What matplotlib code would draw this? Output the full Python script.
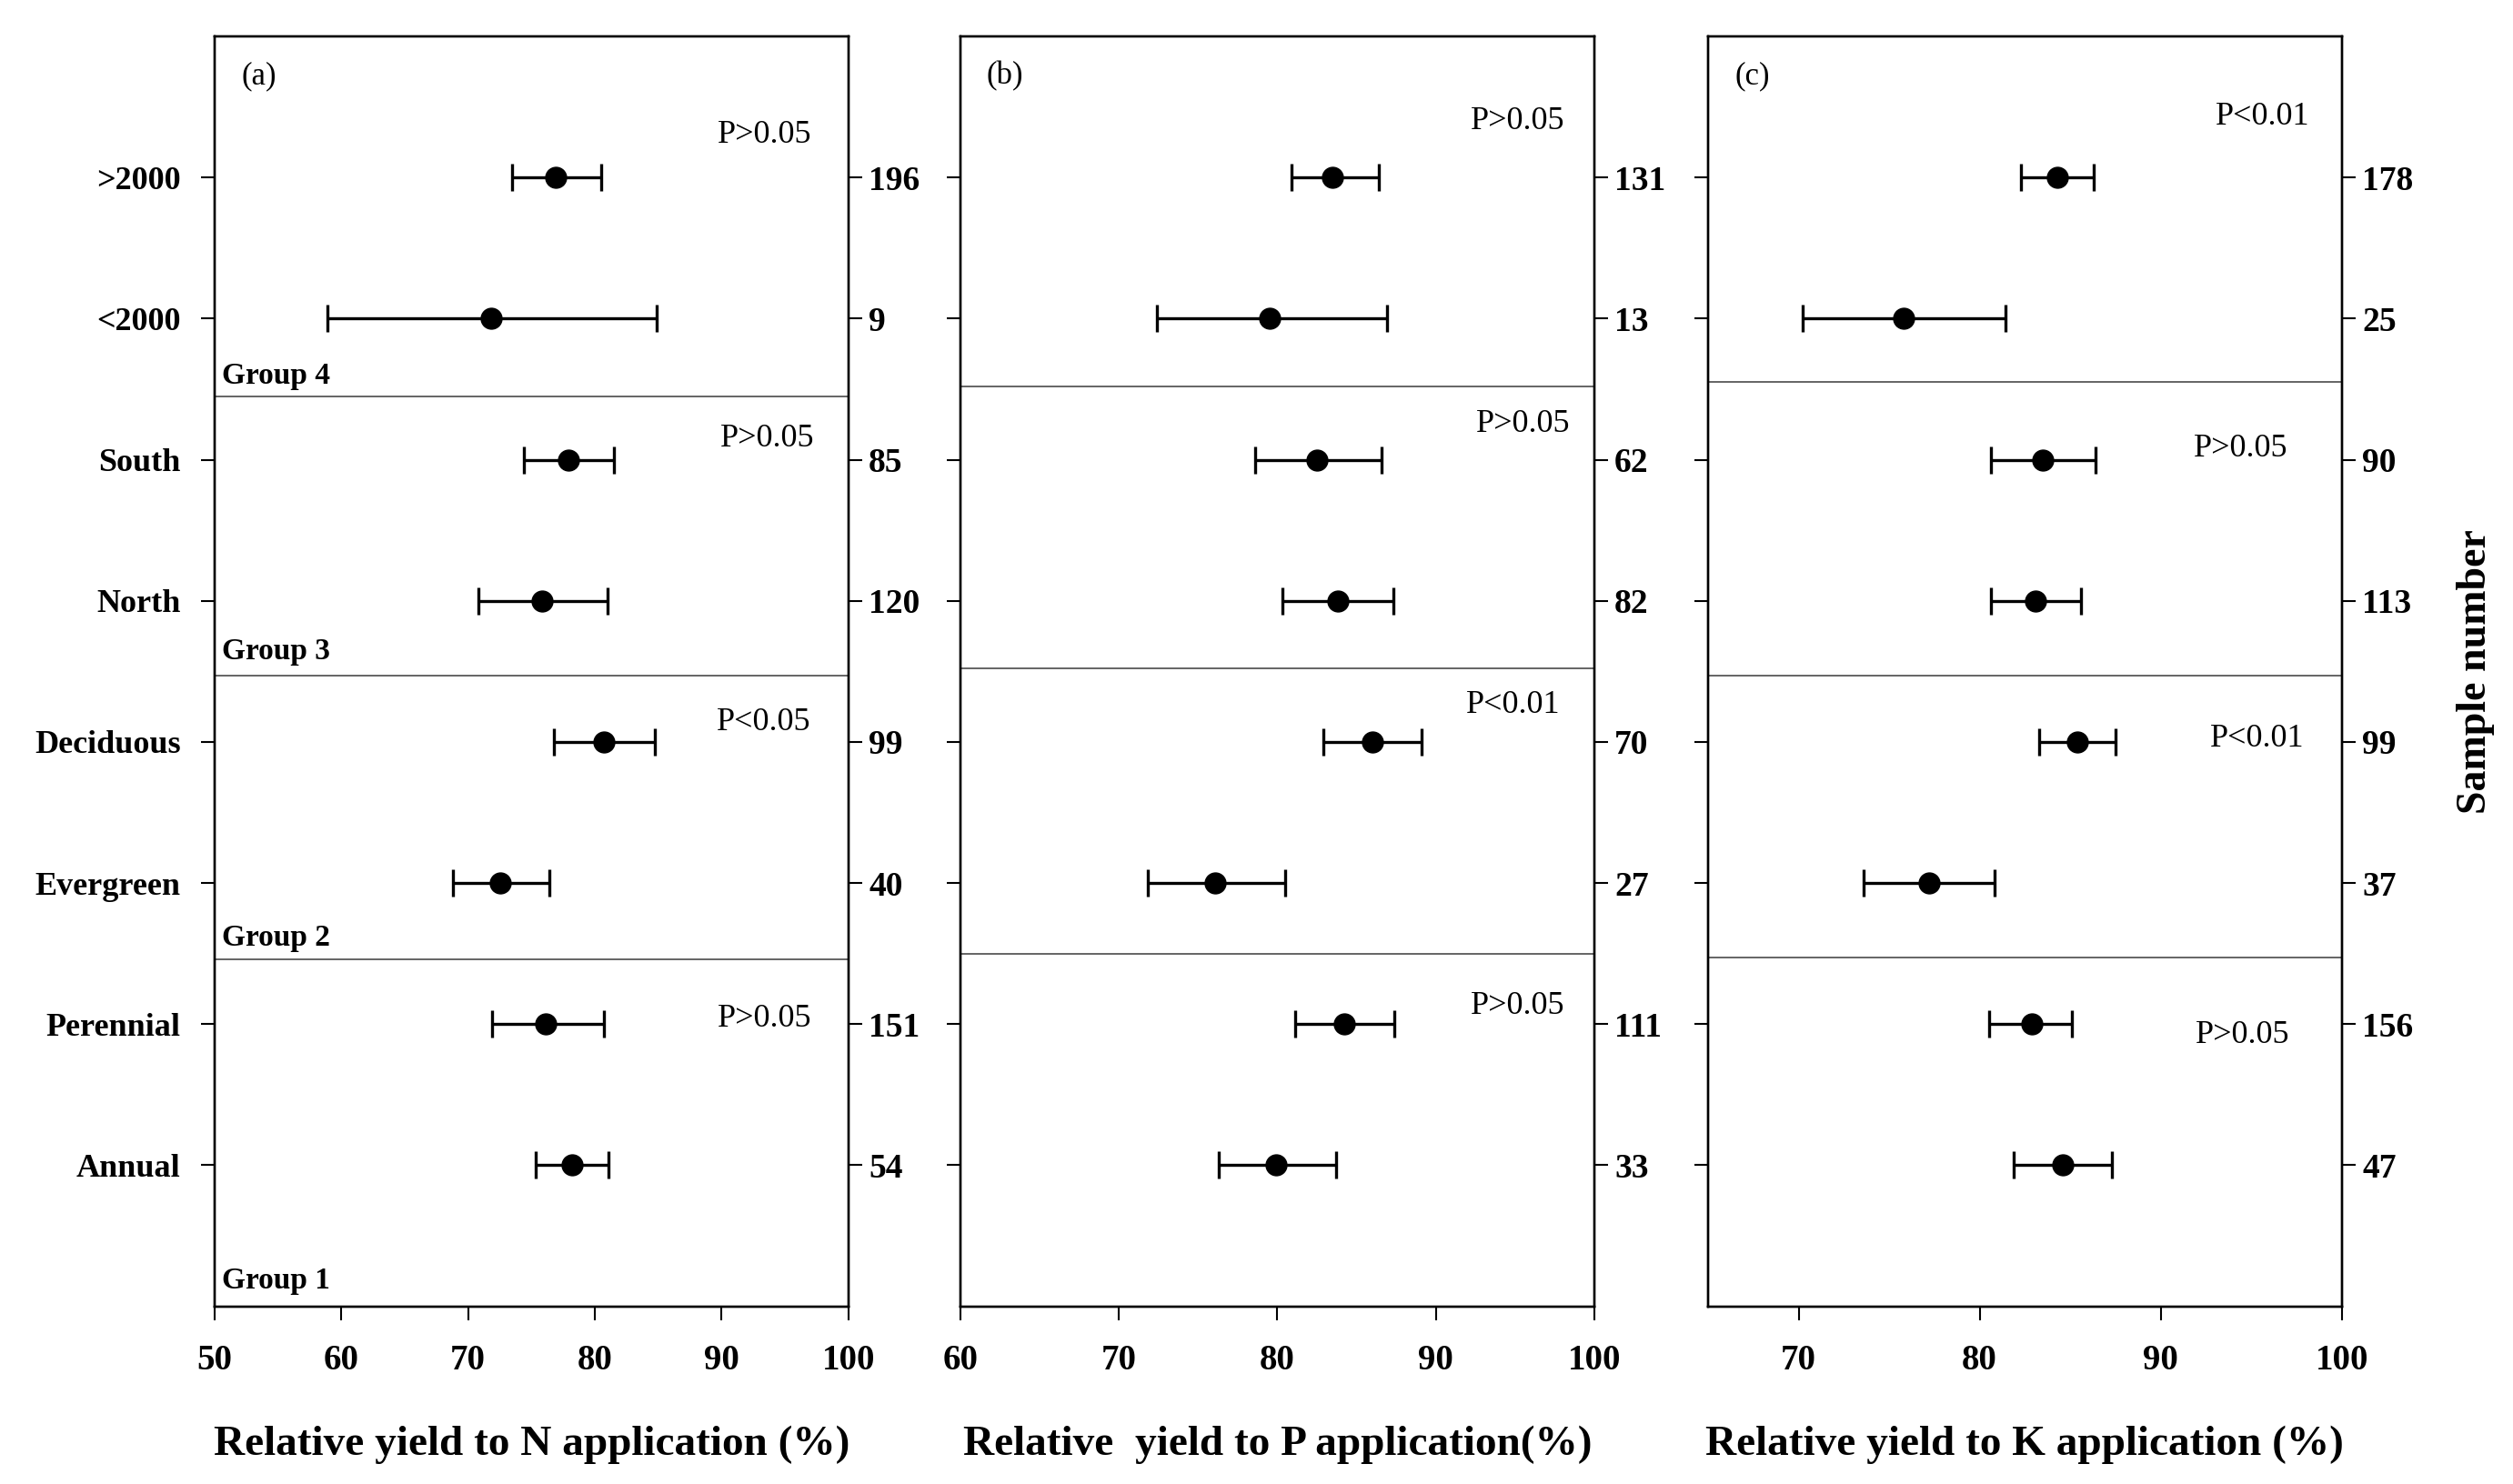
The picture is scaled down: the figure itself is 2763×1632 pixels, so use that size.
#Relative yield forest plot - N, P, K
#Imports
import matplotlib
matplotlib.use('Agg')
import matplotlib.pyplot as plt
import numpy as np

#1. Dados (de baixo para cima: y = 1..8)
categorias = ['Annual', 'Perennial', 'Evergreen', 'Deciduous', 'North', 'South', '<2000', '>2000']
grupos = ['Group 1', 'Group 2', 'Group 3', 'Group 4']

# -- N
n_media = [78.2, 76.1, 72.5, 80.7, 75.8, 77.9, 71.8, 76.9]
n_inf = [75.3, 71.9, 68.8, 76.8, 70.8, 74.4, 58.9, 73.5]
n_sup = [81.1, 80.7, 76.4, 84.7, 81.0, 81.5, 84.9, 80.5]
n_amostras = ['54', '151', '40', '99', '120', '85', '9', '196']
n_p = ['P>0.05', 'P<0.05', 'P>0.05', 'P>0.05']

# -- P
p_media = [79.9, 84.2, 76.1, 86.0, 83.8, 82.5, 79.5, 83.5]
p_inf = [76.3, 81.1, 71.8, 82.9, 80.3, 78.6, 72.4, 80.9]
p_sup = [83.7, 87.4, 80.5, 89.1, 87.3, 86.6, 86.9, 86.4]
p_amostras = ['33', '111', '27', '70', '82', '62', '13', '131']
p_p = ['P>0.05', 'P<0.01', 'P>0.05', 'P>0.05']

# -- K
k_media = [84.6, 82.9, 77.2, 85.4, 83.1, 83.5, 75.8, 84.3]
k_inf = [81.9, 80.5, 73.6, 83.3, 80.6, 80.6, 70.2, 82.3]
k_sup = [87.3, 85.1, 80.8, 87.5, 85.6, 86.4, 81.4, 86.3]
k_amostras = ['47', '156', '37', '99', '113', '90', '25', '178']
k_p = ['P>0.05', 'P<0.01', 'P>0.05', 'P<0.01']

#2. Estilo
plt.rcParams['font.family'] = ['Liberation Serif', 'DejaVu Serif']
plt.rcParams['axes.linewidth'] = 1.7

fig = plt.figure(figsize=(27.63, 16.32), dpi=100)

paineis = [
    dict(media=n_media, inf=n_inf, sup=n_sup, amostras=n_amostras, pv=n_p,
         xlim=(50, 100), ticks=[50, 60, 70, 80, 90, 100], letra='(a)',
         xlabel='Relative yield to N application (%)', left=0.0854,
         seps=[2.46, 4.47, 6.45], px=[93.4, 93.3, 93.6, 93.4], py=[2.04, 4.14, 6.15, 8.30]),
    dict(media=p_media, inf=p_inf, sup=p_sup, amostras=p_amostras, pv=p_p,
         xlim=(60, 100), ticks=[60, 70, 80, 90, 100], letra='(b)',
         xlabel='Relative  yield to P application(%)', left=0.3822,
         seps=[2.50, 4.52, 6.52], px=[95.2, 94.9, 95.5, 95.2], py=[2.13, 4.26, 6.25, 8.40]),
    dict(media=k_media, inf=k_inf, sup=k_sup, amostras=k_amostras, pv=k_p,
         xlim=(65, 100), ticks=[70, 80, 90, 100], letra='(c)',
         xlabel='Relative yield to K application (%)', left=0.6797,
         seps=[2.47, 4.47, 6.55], px=[94.5, 95.3, 94.4, 95.6], py=[1.92, 4.02, 6.08, 8.43]),
]

y = np.arange(1, len(categorias) + 1)

#3. Desenhar os paineis
for i, pn in enumerate(paineis):
    ax = fig.add_axes([pn['left'], 0.1197, 0.2522, 0.8558])
    media = np.array(pn['media'])
    erro = [media - np.array(pn['inf']), np.array(pn['sup']) - media]
    ax.errorbar(media, y, xerr=erro, fmt='o', color='black', ms=16.5,
                elinewidth=2.4, capsize=11, capthick=2.4, zorder=3)

    for s in pn['seps']:
        ax.axhline(s, color='#3a3a3a', lw=1.1, zorder=1)

    ax.set_xlim(*pn['xlim'])
    ax.set_ylim(0, 9)
    ax.set_xticks(pn['ticks'])
    ax.set_xticklabels([str(t) for t in pn['ticks']], fontsize=28, fontweight='bold')
    ax.tick_params(axis='x', direction='out', length=11, width=1.5, pad=18.5)

    # -- eixo da esquerda (categorias so no painel a)
    ax.set_yticks(y)
    if i == 0:
        ax.set_yticklabels(categorias, fontsize=26, fontweight='bold')
        ax.tick_params(axis='y', direction='out', length=11, width=1.5, pad=16)
        for g, gy in zip(grupos, [0.18, 2.61, 4.64, 6.59]):
            ax.text(50.6, gy, g, fontsize=24, fontweight='bold', va='center', ha='left')
    else:
        ax.set_yticklabels([])
        ax.tick_params(axis='y', direction='out', length=11, width=1.5)

    # -- eixo da direita (numero de amostras)
    ax2 = ax.twinx()
    ax2.set_ylim(0, 9)
    ax2.set_yticks(y)
    ax2.set_yticklabels(pn['amostras'], fontsize=27, fontweight='bold')
    ax2.tick_params(axis='y', direction='out', length=11, width=1.5, pad=5)
    if i == 2:
        ax2.set_ylabel('Sample number', fontsize=33, fontweight='bold', labelpad=34)

    for txt, tx, ty in zip(pn['pv'], pn['px'], pn['py']):
        ax.text(tx, ty, txt, fontsize=26, ha='center', va='center')

    ax.text(pn['xlim'][0] + (pn['xlim'][1] - pn['xlim'][0]) * 0.07, 8.72, pn['letra'],
            fontsize=25, ha='center', va='center')

    ax.set_xlabel(pn['xlabel'], fontsize=34, fontweight='bold', labelpad=38)

fig.savefig('out.png', dpi=100)
